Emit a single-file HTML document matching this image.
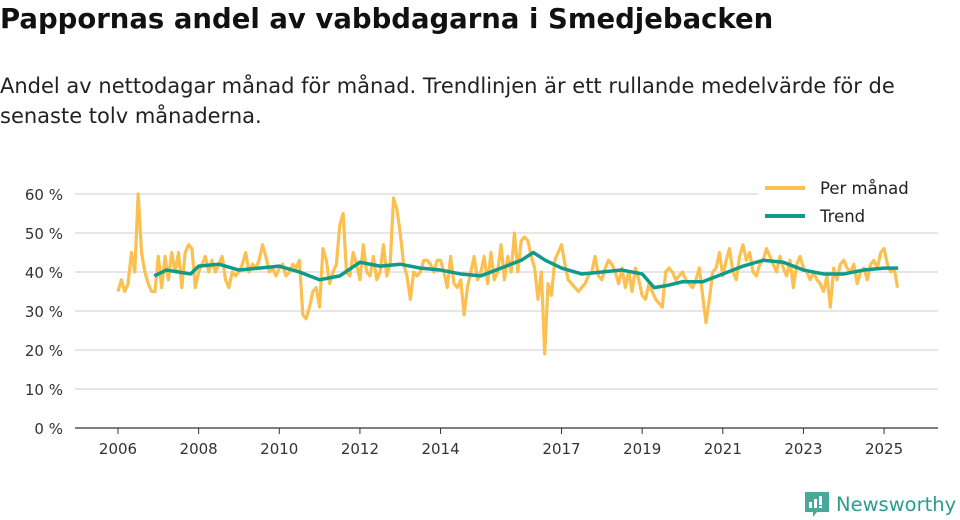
<!DOCTYPE html>
<html><head><meta charset="utf-8"><style>
body{margin:0;width:960px;height:520px;background:#fff;font-family:"DejaVu Sans","Liberation Sans",sans-serif;color:#222;overflow:hidden;position:relative}
h1{position:absolute;left:0;top:3px;margin:0;font-size:27.5px;font-weight:bold;color:#111}
p{position:absolute;left:0;top:71px;margin:0;font-size:21px;line-height:30px;width:925px}
</style></head><body>
<h1>Pappornas andel av vabbdagarna i Smedjebacken</h1>
<p>Andel av nettodagar månad för månad. Trendlinjen är ett rullande medelvärde för de senaste tolv månaderna.</p>
<svg id="c" width="960" height="520" style="position:absolute;left:0;top:0"></svg>
<div style="position:absolute;left:805px;top:490px;display:flex;align-items:center;color:#2a9d8f;font-size:19.5px">
<svg width="24" height="28" viewBox="0 0 24 28"><path d="M0 2h24v20H12l-4 5v-5H0z" fill="#4aa89a"/><rect x="4" y="12" width="3" height="6" fill="#fff"/><rect x="9" y="9" width="3" height="9" fill="#fff"/><rect x="14" y="6" width="3" height="9" fill="#fff"/><rect x="14" y="16" width="3" height="2" fill="#fff"/></svg>
<span style="margin-left:7px">Newsworthy</span></div>
<script>
const monthly=[35,38,35,37,45,40,60,45,40,37,35,35,
44,36,44,38,45,40,45,36,45,47,46,36,
40,42,44,40,43,40,42,44,38,36,40,39,
40,42,45,40,42,41,43,47,44,40,41,39,
41,42,39,40,42,41,43,29,28,31,35,36,
31,46,43,37,40,42,52,55,40,39,45,42,
38,47,40,39,44,38,40,47,39,42,59,56,
50,42,39,33,40,39,40,43,43,42,40,43,
43,40,36,44,37,36,38,29,36,40,44,38,
40,44,37,45,38,40,47,38,44,40,50,40,
48,49,48,44,41,33,40,19,37,34,43,45,
47,42,38,37,36,35,36,37,39,40,44,39,
38,41,43,42,40,37,41,36,40,35,41,38,
34,33,37,35,33,32,31,40,41,40,38,39,
40,38,37,36,38,41,34,27,33,40,41,45,
39,43,46,40,38,44,47,43,45,40,39,42,
43,46,44,42,40,44,41,39,43,36,42,44,
41,40,38,40,38,37,35,39,31,41,38,42,
43,41,40,42,37,40,41,38,42,43,41,45,
46,42,40,41,36];
const trendDates=[2006.9,2007.2,2007.5,2007.8,2008.0,2008.5,2009.0,2009.5,2010.0,2010.5,2011.0,2011.5,2012.0,2012.5,2013.0,2013.5,2014.0,2014.5,2015.0,2015.5,2016.0,2016.3,2016.6,2017.0,2017.5,2018.0,2018.5,2019.0,2019.3,2019.6,2020.0,2020.5,2021.0,2021.5,2022.0,2022.5,2023.0,2023.5,2024.0,2024.5,2025.0,2025.35];
const trendValues=[39,40.5,40,39.5,41.5,42,40.5,41,41.5,40,38,39,42.5,41.5,42,41,40.5,39.5,39,41,43,45,43,41,39.5,40,40.5,39.5,36,36.5,37.5,37.5,39.5,41.5,43,42.5,40.5,39.5,39.5,40.5,41,41];
const yTicks=[0,10,20,30,40,50,60];
const xTicks=[2006,2008,2010,2012,2014,2017,2019,2021,2023,2025];
const NS="http://www.w3.org/2000/svg",svg=document.getElementById('c');
const X=t=>118+(t-2006)*40.32, Y=v=>428-v*3.9;
function el(tag,a,parent){const e=document.createElementNS(NS,tag);for(const k in a)e.setAttribute(k,a[k]);(parent||svg).appendChild(e);return e;}
yTicks.forEach(v=>{
 const g=el('line',{x1:75,x2:938,y1:Y(v),y2:Y(v),stroke:v===0?'#333':'#ddd','stroke-width':v===0?1.2:1.5});
 
 
 const t=el('text',{x:63,y:Y(v)+6,'text-anchor':'end','font-size':15,fill:'#333'});
 t.textContent=v+' %';
 
 
});
xTicks.forEach(y=>{
 const k=el('line',{x1:X(y),x2:X(y),y1:428,y2:434,stroke:'#333'});
 
 
 const t=el('text',{x:X(y),y:454,'text-anchor':'middle','font-size':15,fill:'#333'});
 t.textContent=y;
 
 
});
const mp=el('polyline',{points:monthly.map((v,i)=>X(2006+i/12)+','+Y(v)).join(' '),fill:'none',stroke:'#fbc04f','stroke-width':3.2,'stroke-linejoin':'round'});


const tp=el('polyline',{points:trendValues.map((v,i)=>X(trendDates[i])+','+Y(v)).join(' '),fill:'none',stroke:'#0f9a8a','stroke-width':3.5,'stroke-linejoin':'round'});


const lg=el('g',{});


el('rect',{x:758,y:174,width:180,height:56,fill:'#fff'},lg);
el('line',{x1:765,x2:805,y1:188,y2:188,stroke:'#fbc04f','stroke-width':4},lg);
el('line',{x1:765,x2:805,y1:216,y2:216,stroke:'#0f9a8a','stroke-width':4},lg);
const l1=el('text',{x:820,y:194,'font-size':16.5,fill:'#222'},lg);l1.textContent='Per månad';


const l2=el('text',{x:820,y:222,'font-size':16.5,fill:'#222'},lg);l2.textContent='Trend';


</script>
</body></html>
